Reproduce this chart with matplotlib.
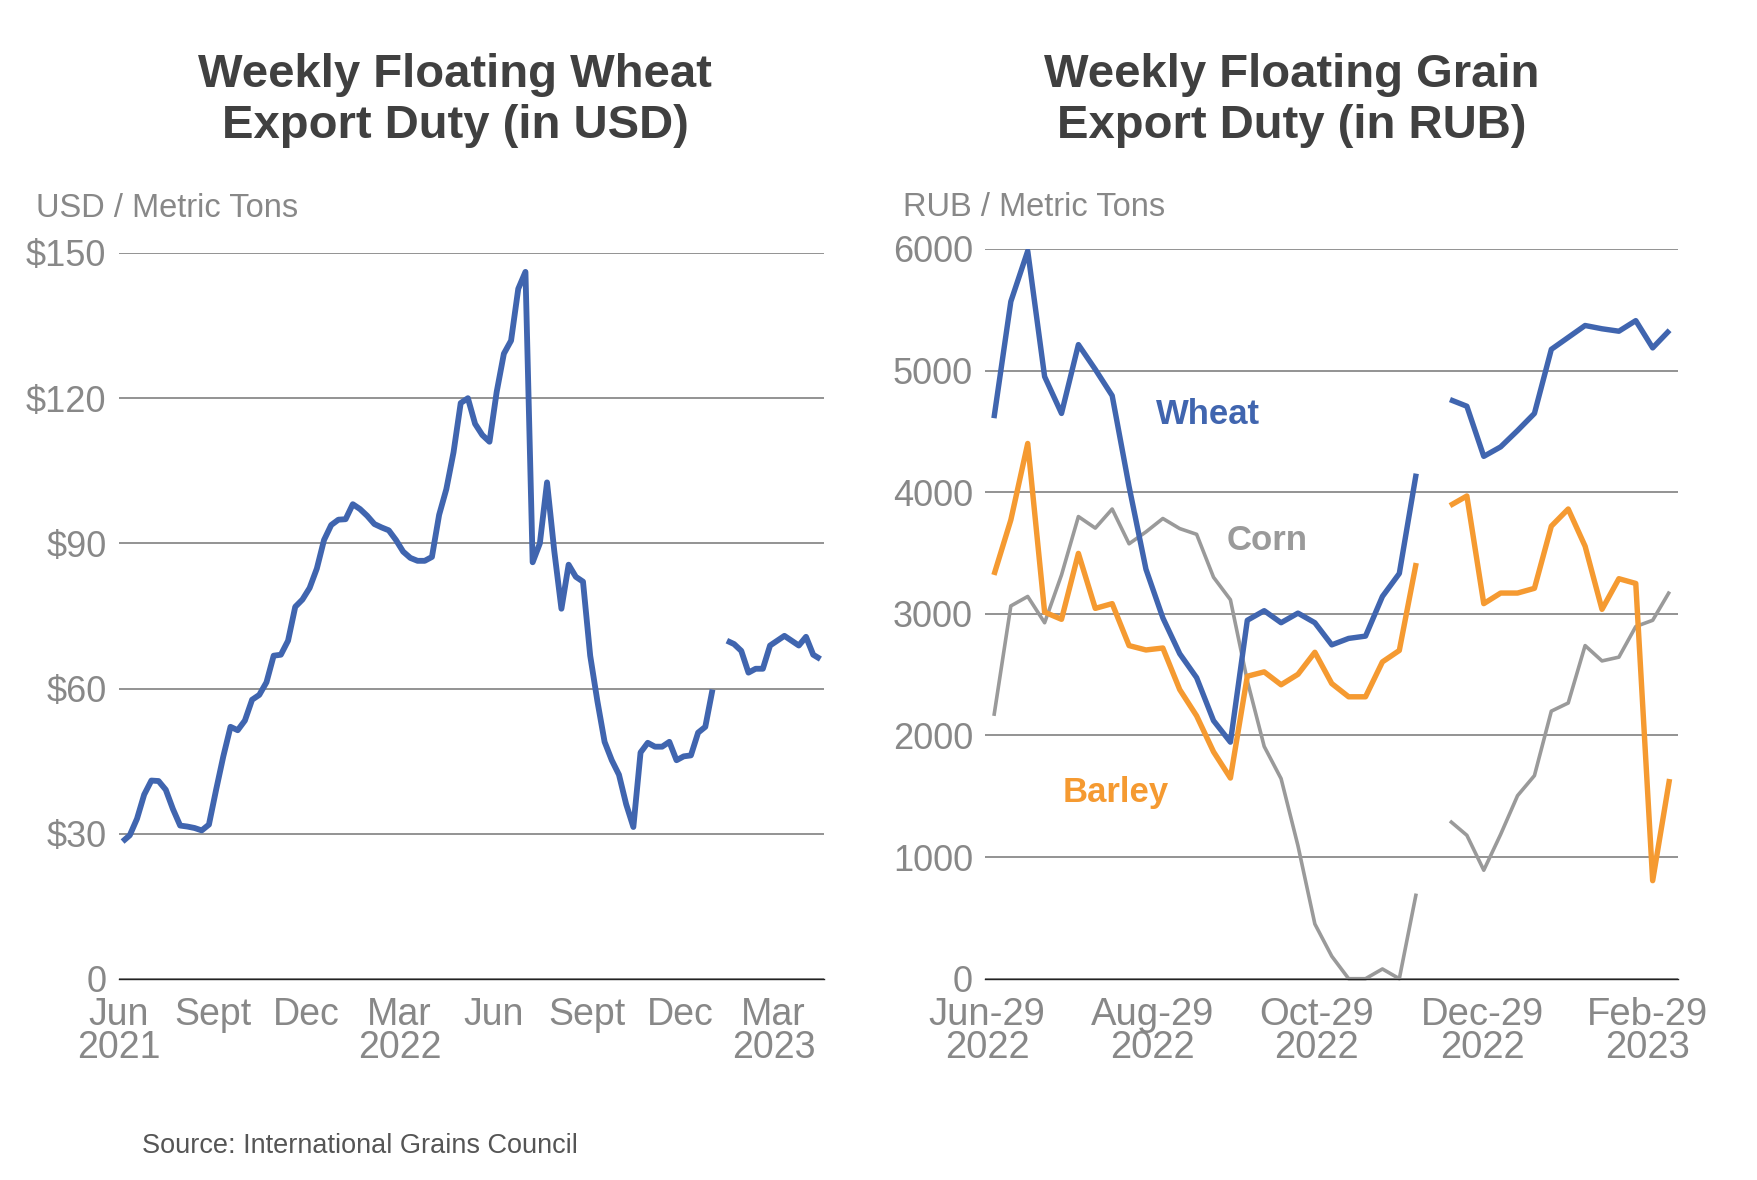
import numpy as np
import matplotlib
matplotlib.use("Agg")
import matplotlib.pyplot as plt

plt.rcParams['font.family'] = ['Liberation Sans', 'DejaVu Sans']

# ---------------- data ----------------
nan = np.nan
# Left: weekly floating wheat export duty, USD / metric ton (Jun 2021 - May 2023)
usd_wheat = [28.4, 29.7, 33.1, 38.1, 41.0, 40.9, 39.1, 35.1, 31.7, 31.5,
             31.2, 30.7, 31.9, 39.1, 46.0, 52.1, 51.4, 53.4, 57.7, 58.7,
             61.3, 66.8, 67.0, 69.9, 76.9, 78.4, 80.8, 84.8, 90.7, 93.8,
             94.9, 95.0, 98.1, 97.1, 95.7, 94.0, 93.3, 92.7, 90.7, 88.3,
             87.0, 86.4, 86.4, 87.2, 95.9, 101.2, 108.8, 119.0, 120.0,
             114.7, 112.4, 111.0, 121.3, 129.2, 131.9, 142.6, 146.1, 86.1,
             90.0, 102.6, 88.5, 76.5, 85.6, 83.1, 82.1, 66.8, 57.4, 49.0,
             45.2, 42.2, 36.1, 31.4, 46.8, 48.8, 48.0, 48.0, 49.0, 45.2,
             46.0, 46.2, 50.9, 52.1, 59.8, nan,
             69.9, 69.2, 67.8, 63.3, 64.1, 64.1, 68.9, 69.9, 70.9, 69.9,
             68.9, 70.7, 67.0, 66.1]
usd_tick_labels = ["Jun\n2021", "Sept", "Dec", "Mar\n2022", "Jun", "Sept",
                   "Dec", "Mar\n2023"]
usd_tick_pos = [-0.5, 12.5, 25.5, 38.5, 51.5, 64.5, 77.5, 90.5]
usd_yticks = [0, 30, 60, 90, 120, 150]
usd_ylabels = ["0", "$30", "$60", "$90", "$120", "$150"]

# Right: weekly floating grain export duty, RUB / metric ton (Jun 2022 - Mar 2023)
rub_wheat = [4609, 5568, 5984, 4951, 4648, 5214, 5010, 4794, 4047, 3367,
             2967, 2672, 2475, 2122, 1945, 2947, 3026, 2927, 3006, 2927,
             2745, 2798, 2817, 3143, 3332, 4153, nan,
             4762, 4707, 4295, 4373, 4507, 4648, 5175, 5273, 5371, 5344,
             5324, 5411, 5187, 5332]
rub_barley = [3320, 3772, 4401, 3014, 2955, 3497, 3045, 3084, 2739, 2703,
              2719, 2377, 2161, 1866, 1650, 2487, 2523, 2417, 2503, 2684,
              2427, 2318, 2318, 2605, 2699, 3418, nan,
              3890, 3969, 3084, 3171, 3171, 3210, 3721, 3862, 3556, 3037,
              3289, 3250, 806, 1642]
rub_corn = [2161, 3065, 3143, 2927, 3320, 3800, 3705, 3862, 3576, 3674,
            3784, 3701, 3654, 3301, 3116, 2450, 1910, 1645, 1093, 450,
            185, 0, 0, 80, 0, 700, nan,
            1297, 1179, 892, 1187, 1505, 1670, 2200, 2267, 2739, 2613,
            2644, 2896, 2947, 3183]
rub_tick_labels = ["Jun-29\n2022", "Aug-29\n2022", "Oct-29\n2022",
                   "Dec-29\n2022", "Feb-29\n2023"]
rub_tick_pos = [-0.4, 9.4, 19.1, 28.9, 38.7]
rub_yticks = [0, 1000, 2000, 3000, 4000, 5000, 6000]

# ---------------- style ----------------
BLUE = '#4065AF'
ORANGE = '#F59A31'
GRAY = '#9A9A9A'
TICK = '#888888'
TITLE = '#404040'
GRID = '#8a8a8a'

W, H = 1758, 1180
fig = plt.figure(figsize=(W / 100, H / 100), dpi=100)


def px_axes(x0, x1, ytop, ybot):
    return fig.add_axes([x0 / W, 1 - ybot / H, (x1 - x0) / W, (ybot - ytop) / H])


def style(ax, xsize):
    for s in ['top', 'right', 'left']:
        ax.spines[s].set_visible(False)
    ax.spines['bottom'].set_color('#222222')
    ax.spines['bottom'].set_linewidth(1.0)
    ax.yaxis.grid(True, color=GRID, linewidth=1.3)
    ax.set_axisbelow(True)
    ax.tick_params(axis='both', length=0, labelcolor=TICK)
    ax.tick_params(axis='y', pad=9, labelsize=26)
    ax.tick_params(axis='x', pad=13, labelsize=xsize)
    for lab in ax.get_xticklabels():
        lab.set_linespacing(0.9)


# Left panel
ax1 = px_axes(119, 824, 253, 979)
x1 = np.arange(len(usd_wheat))
ax1.plot(x1, usd_wheat, color=BLUE, lw=4.2, solid_joinstyle='round',
         solid_capstyle='butt')
ax1.set_xlim(-0.5, len(usd_wheat) - 0.5)
ax1.set_ylim(0, 150)
ax1.set_yticks(usd_yticks, usd_ylabels)
ax1.set_xticks(usd_tick_pos, usd_tick_labels)
style(ax1, 27)

# Right panel
ax2 = px_axes(985.5, 1678, 249, 978.7)
x2 = np.arange(len(rub_wheat))
ax2.plot(x2, rub_corn, color=GRAY, lw=2.6, solid_joinstyle='round',
         solid_capstyle='butt', clip_on=False)
ax2.plot(x2, rub_barley, color=ORANGE, lw=3.9, solid_joinstyle='round',
         solid_capstyle='butt')
ax2.plot(x2, rub_wheat, color=BLUE, lw=3.9, solid_joinstyle='round',
         solid_capstyle='butt')
ax2.set_xlim(-0.5, len(rub_wheat) - 0.5)
ax2.set_ylim(0, 6000)
ax2.set_yticks(rub_yticks, [str(v) for v in rub_yticks])
ax2.set_xticks(rub_tick_pos, rub_tick_labels)
style(ax2, 27.5)

ax2.text(12.7, 4636, "Wheat", color=BLUE, fontsize=25, fontweight='bold',
         ha='center', va='center')
ax2.text(16.2, 3600, "Corn", color=GRAY, fontsize=25, fontweight='bold',
         ha='center', va='center')
ax2.text(7.2, 1527, "Barley", color=ORANGE, fontsize=25, fontweight='bold',
         ha='center', va='center')

# Titles
fig.text(455 / W, 1 - 87 / H, "Weekly Floating Wheat", ha='center',
         va='baseline', fontsize=34, fontweight='bold', color=TITLE)
fig.text(455 / W, 1 - 138 / H, "Export Duty (in USD)", ha='center',
         va='baseline', fontsize=34, fontweight='bold', color=TITLE)
fig.text(1292 / W, 1 - 87 / H, "Weekly Floating Grain", ha='center',
         va='baseline', fontsize=34, fontweight='bold', color=TITLE)
fig.text(1292 / W, 1 - 138 / H, "Export Duty (in RUB)", ha='center',
         va='baseline', fontsize=34, fontweight='bold', color=TITLE)

# Unit labels
fig.text(36 / W, 1 - 217 / H, "USD / Metric Tons", ha='left', va='baseline',
         fontsize=23.5, color=TICK)
fig.text(903 / W, 1 - 216 / H, "RUB / Metric Tons", ha='left', va='baseline',
         fontsize=23.5, color=TICK)

# Source
fig.text(142 / W, 1 - 1153 / H, "Source: International Grains Council",
         ha='left', va='baseline', fontsize=19.5, color='#555555')

fig.savefig("out.png", dpi=100)
